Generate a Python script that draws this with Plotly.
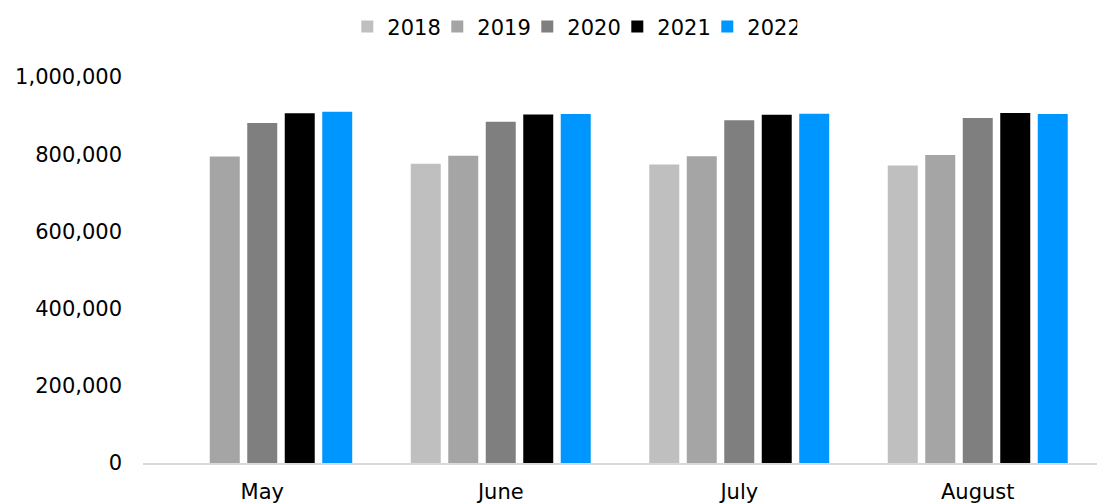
import plotly.graph_objects as go

# Monthly totals by year
months = ["May", "June", "July", "August"]
years = ["2018", "2019", "2020", "2021", "2022"]
values_2018 = [None, 775000, 773000, 771000]
values_2019 = [794000, 796000, 795000, 798000]
values_2020 = [881000, 884000, 888000, 894000]
values_2021 = [906000, 903000, 902000, 907000]
values_2022 = [910000, 904000, 905000, 904000]
series = [values_2018, values_2019, values_2020, values_2021, values_2022]
colors = ["#BFBFBF", "#A5A5A5", "#7F7F7F", "#000000", "#0096FF"]

y_ticks = [0, 200000, 400000, 600000, 800000, 1000000]
y_tick_labels = ["0", "200,000", "400,000", "600,000", "800,000", "1,000,000"]

fig = go.Figure()
for name, vals, color in zip(years, series, colors):
    fig.add_trace(go.Bar(name=name, x=months, y=vals, marker_color=color,
                         marker_line_width=0))

font = dict(family="DejaVu Sans, Verdana, sans-serif", size=21, color="#000000")

fig.update_layout(
    width=1107, height=503,
    margin=dict(l=143, r=10, t=77, b=40, autoexpand=False),
    paper_bgcolor="white", plot_bgcolor="white",
    barmode="group", bargap=0.214, bargroupgap=0.2,
    font=font,
    showlegend=True,
    legend=dict(orientation="h", x=0.45, xanchor="center", y=1.13, yanchor="middle",
                traceorder="normal", itemwidth=30, entrywidth=45,
                entrywidthmode="pixels",
                font=font, bgcolor="rgba(0,0,0,0)"),
    xaxis=dict(showgrid=False, showline=True, linecolor="#D9D9D9", linewidth=1.5,
               ticks="", tickfont=font, ticklabelstandoff=9, automargin=False),
    yaxis=dict(range=[0, 1000000], showgrid=False, zeroline=False, showline=False,
               tickvals=y_ticks, ticktext=y_tick_labels, ticks="",
               tickfont=font, ticklabelstandoff=20, automargin=False),
)

fig.write_html("out.html")
